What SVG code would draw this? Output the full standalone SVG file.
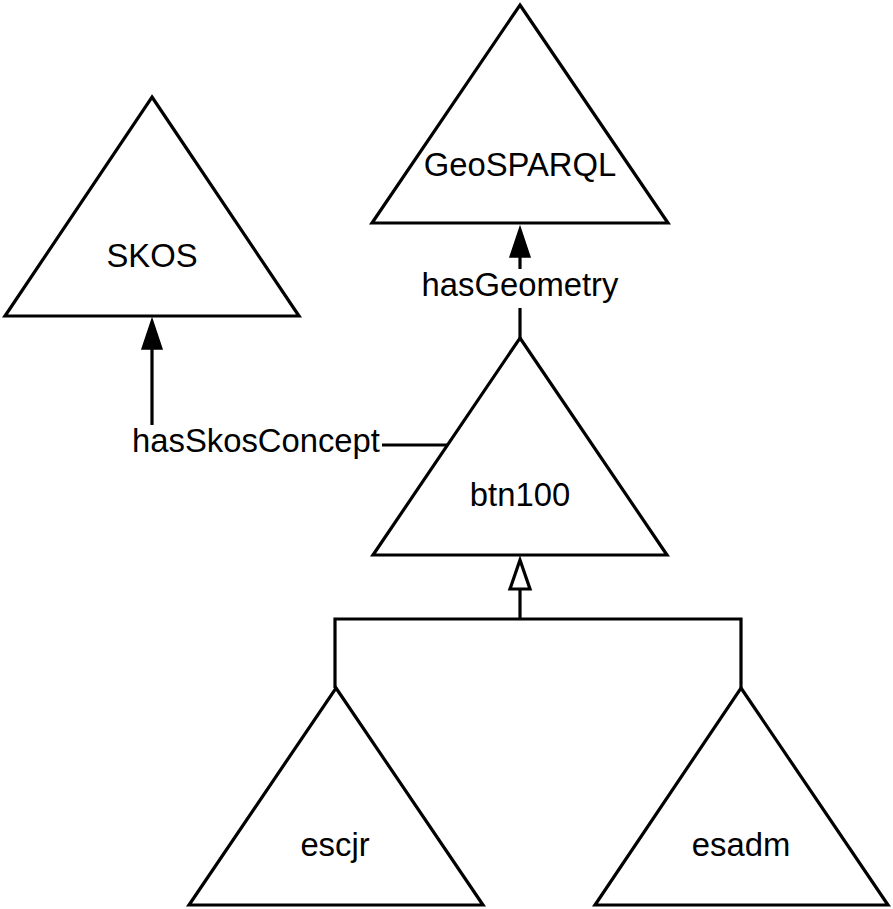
<svg xmlns="http://www.w3.org/2000/svg" width="893" height="909" viewBox="0 0 893 909">
<style>
.tri{fill:#fff;stroke:#000;stroke-width:3.2;stroke-linejoin:miter}
.lbl{font-family:"Liberation Sans",Arial,sans-serif;font-size:32.8px;fill:#000;text-anchor:middle}
.ln{fill:none;stroke:#000;stroke-width:3.2}
.head{fill:#000;stroke:#000;stroke-width:1.5}
.hollow{fill:#fff;stroke:#000;stroke-width:3.2}
</style>
<rect width="893" height="909" fill="#fff"/>
<g id="GeoSPARQL">
<polygon class="tri" points="520,5 668,223 372,223"/>
<text class="lbl" x="520" y="176">GeoSPARQL</text>
</g>
<g id="SKOS">
<polygon class="tri" points="152,97 299,316 5,316"/>
<text class="lbl" x="152" y="267">SKOS</text>
</g>
<g id="btn100">
<polygon class="tri" points="520,338 667,555 373,555"/>
<text class="lbl" x="520" y="506">btn100</text>
</g>
<g id="escjr">
<polygon class="tri" points="336,688 483,905 189,905"/>
<text class="lbl" x="335" y="856">escjr</text>
</g>
<g id="esadm">
<polygon class="tri" points="741,688 888,905 595,905"/>
<text class="lbl" x="741" y="856">esadm</text>
</g>
<g id="connectors">
<line class="ln" x1="520" y1="338" x2="520" y2="308"/>
<line class="ln" x1="520" y1="269" x2="520" y2="256"/>
<polygon class="head" points="520,227 530,257 510,257"/>
<text class="lbl" x="520" y="296">hasGeometry</text>
<line class="ln" x1="447" y1="445" x2="382" y2="445"/>
<line class="ln" x1="152" y1="425" x2="152" y2="348"/>
<polygon class="head" points="152,319 162,349 142,349"/>
<text class="lbl" x="256" y="452">hasSkosConcept</text>
<polyline class="ln" points="335,688 335,619 741,619 741,688"/>
<line class="ln" x1="520" y1="619" x2="520" y2="589"/>
<polygon class="hollow" points="520,560 530,589 510,589"/>
</g>
</svg>
